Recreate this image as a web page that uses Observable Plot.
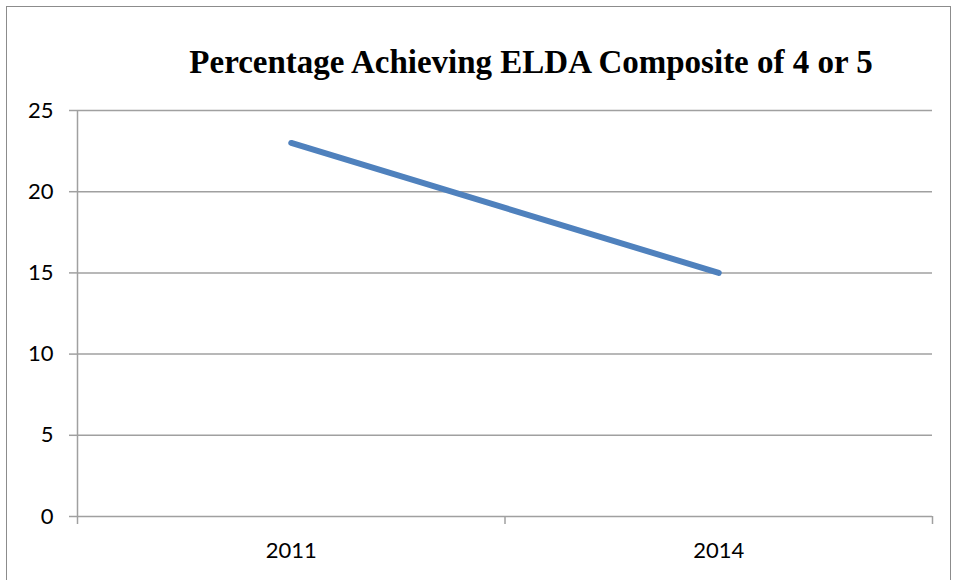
<!DOCTYPE html>
<html>
<head>
<meta charset="utf-8">
<script src="https://cdn.jsdelivr.net/npm/d3@7"></script>
<script src="https://cdn.jsdelivr.net/npm/@observablehq/plot@0.6"></script>
<style>
  html, body { margin: 0; padding: 0; background: #fff; overflow: hidden; }
  #wrap { position: relative; width: 954px; height: 580px; }
  #border { position: absolute; left: 6px; top: 6px; width: 945px; height: 600px; border: 1.5px solid #8c8c8c; box-sizing: border-box; pointer-events: none; }
  svg { position: absolute; left: 0; top: 0; }
</style>
</head>
<body>
<div id="wrap"><div id="border"></div></div>
<script>
const title = "Percentage Achieving ELDA Composite of 4 or 5";
const years = ["2011", "2014"];
const values = [23, 15];
const yTicks = [0, 5, 10, 15, 20, 25];

const data = years.map((year, i) => ({year, i: i + 0.5, value: values[i]}));
const boundaries = d3.range(years.length + 1);
const gridColor = "#a0a0a0";

const chart = Plot.plot({
  width: 954,
  height: 580,
  marginLeft: 77,
  marginRight: 22,
  marginTop: 110,
  marginBottom: 64,
  style: {fontFamily: "Lato, 'Open Sans', sans-serif", fontSize: "22px", color: "#000", background: "transparent", overflow: "visible"},
  x: {domain: [0, years.length]},
  y: {domain: [0, 25]},
  marks: [
    Plot.ruleY(yTicks, {y: d => d, stroke: gridColor, strokeWidth: 1.5}),
    Plot.ruleX([0], {x: d => d, stroke: gridColor, strokeWidth: 1.5}),
    Plot.axisY({ticks: yTicks, label: null, tickSize: 8, tickPadding: 16, stroke: gridColor, strokeWidth: 1.5, fill: "#000", tickFormat: d => String(d)}),
    Plot.axisX({ticks: boundaries, label: null, tickSize: 8, stroke: gridColor, strokeWidth: 1.5, tickFormat: () => ""}),
    Plot.text(data, {x: "i", text: "year", frameAnchor: "bottom", dy: 41, fill: "#000", fontSize: 22}),
    Plot.line(data, {x: "i", y: "value", stroke: "#4F81BD", strokeWidth: 6, strokeLinecap: "round"}),
    Plot.text([title], {text: d => d, frameAnchor: "top", x: 1.061, dy: -61, lineAnchor: "top", fontFamily: "'Liberation Serif', serif", fontWeight: "bold", fontSize: 33, fill: "#000"})
  ]
});
document.getElementById("wrap").appendChild(chart);
</script>
</body>
</html>
